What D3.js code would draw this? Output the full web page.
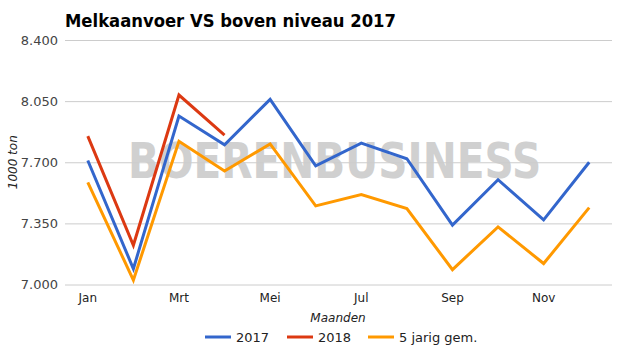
<!DOCTYPE html>
<html>
<head>
<meta charset="utf-8">
<script src="https://cdn.jsdelivr.net/npm/d3@7"></script>
<style>
  body { margin: 0; background: #fff; }
  text { font-family: "DejaVu Sans", sans-serif; }
</style>
</head>
<body>
<div id="chart"></div>
<script>
var w = 625;
var h = 355;

var months = ["Jan", "Feb", "Mrt", "Apr", "Mei", "Jun", "Jul", "Aug", "Sep", "Okt", "Nov", "Dec"];
var shownMonths = ["Jan", "Mrt", "Mei", "Jul", "Sep", "Nov"];
var yTicks = [7.0, 7.35, 7.7, 8.05, 8.4];

var values2017 = [7.71, 7.09, 7.965, 7.80, 8.06, 7.68, 7.81, 7.72, 7.34, 7.60, 7.37, 7.70];
var values2018 = [7.85, 7.225, 8.085, 7.855];
var valuesAvg = [7.585, 7.025, 7.82, 7.65, 7.805, 7.45, 7.515, 7.435, 7.085, 7.33, 7.12, 7.44];

var seriesNames = ["2017", "2018", "5 jarig gem."];
var seriesColors = ["#3366cc", "#dc3912", "#ff9900"];

var margin = { top: 40, right: 13, bottom: 70.5, left: 65 };

var xScale = d3.scaleBand()
  .domain(months)
  .range([margin.left, w - margin.right]);

var yScale = d3.scaleLinear()
  .domain([7.0, 8.4])
  .range([h - margin.bottom, margin.top]);

var svg = d3.select("#chart").append("svg").attr("width", w).attr("height", h);

// title
svg.append("text")
  .attr("x", 65)
  .attr("y", 27)
  .attr("font-size", "18px")
  .attr("font-weight", "bold")
  .attr("textLength", 331)
  .attr("lengthAdjust", "spacingAndGlyphs")
  .attr("fill", "#000")
  .text("Melkaanvoer VS boven niveau 2017");

// watermark (under the gridlines), squeezed to fit
svg.append("text")
  .attr("transform", "translate(128,178) scale(0.924,1.15)")
  .attr("font-size", "44px")
  .attr("font-weight", "bold")
  .attr("font-family", "Liberation Sans")
  .attr("fill", "#d0d0d0")
  .text("BOERENBUSINESS");

// y axis with gridlines
var yAxis = d3.axisLeft(yScale)
  .tickValues(yTicks)
  .tickSize(-(w - margin.left - margin.right))
  .tickPadding(7)
  .tickFormat(d3.format(".3f"));

var gy = svg.append("g")
  .attr("transform", "translate(" + margin.left + ",0)")
  .call(yAxis);
gy.select(".domain").remove();
gy.selectAll("line").attr("stroke", "#cccccc");
gy.selectAll("text").attr("font-size", "13px").attr("fill", "#444").attr("font-family", "DejaVu Sans");

// x axis
var xAxis = d3.axisBottom(xScale)
  .tickValues(shownMonths)
  .tickSize(0)
  .tickPadding(9);

var gx = svg.append("g")
  .attr("transform", "translate(0," + (h - margin.bottom) + ")")
  .call(xAxis);
gx.select(".domain").remove();
gx.selectAll("text").attr("font-size", "12px").attr("fill", "#222").attr("font-family", "DejaVu Sans");

// axis titles
svg.append("text")
  .attr("x", 338)
  .attr("y", 322)
  .attr("text-anchor", "middle")
  .attr("font-size", "12px")
  .attr("font-style", "italic")
  .attr("fill", "#222")
  .text("Maanden");

svg.append("text")
  .attr("transform", "translate(17," + yScale(7.7) + ") rotate(-90)")
  .attr("text-anchor", "middle")
  .attr("font-size", "12px")
  .attr("font-style", "italic")
  .attr("fill", "#222")
  .text("1000 ton");

// lines
var line = d3.line()
  .x(function (d, i) { return xScale(months[i]) + xScale.bandwidth() / 2; })
  .y(function (d) { return yScale(d); });

var allSeries = [values2017, values2018, valuesAvg];

// orange first so blue/red end up on top
[2, 1, 0].forEach(function (k) {
  svg.append("path")
    .datum(allSeries[k])
    .attr("d", line)
    .attr("fill", "none")
    .attr("stroke", seriesColors[k])
    .attr("stroke-width", 3);
});

// legend
var legendX = [205, 287, 368];
var legend = svg.selectAll(".legend")
  .data(seriesNames)
  .enter()
  .append("g")
  .attr("transform", function (d, i) { return "translate(" + legendX[i] + ",337)"; });

legend.append("line")
  .attr("x1", 0)
  .attr("x2", 26)
  .attr("y1", 0)
  .attr("y2", 0)
  .attr("stroke", function (d, i) { return seriesColors[i]; })
  .attr("stroke-width", 3);

legend.append("text")
  .attr("x", 31)
  .attr("y", 5)
  .attr("font-size", "13px")
  .attr("fill", "#222")
  .text(function (d) { return d; });
</script>
</body>
</html>
